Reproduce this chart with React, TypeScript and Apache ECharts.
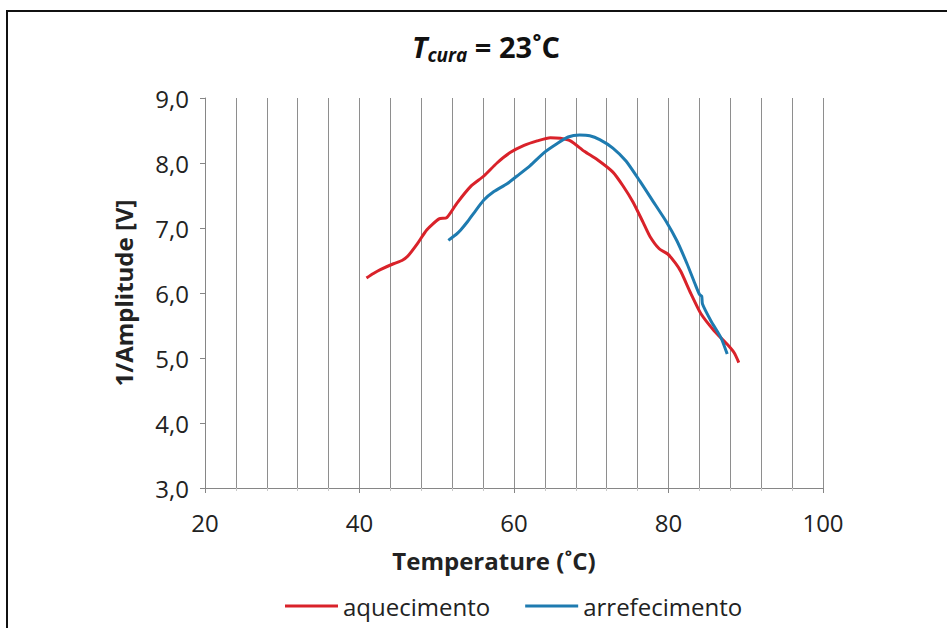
import React, { useEffect, useRef } from "react";
import * as echarts from "echarts";

// aquecimento (heating): [temperature °C, 1/amplitude V]
const heatingT = [40.9, 41.8, 42.7, 44.4, 45.5, 46.2, 47.5, 48.7, 50.3, 51.3, 52.6, 54.4, 56.1, 57.8, 59.5, 61.3, 63.0, 64.7, 66.0, 67.3, 69.1, 70.8, 72.8, 74.1, 75.4, 76.7, 77.6, 78.8, 79.9, 80.9, 81.6, 82.9, 84.2, 85.9, 87.6, 88.5, 89.1];
const heatingV = [6.23, 6.30, 6.36, 6.45, 6.50, 6.56, 6.76, 6.97, 7.14, 7.16, 7.38, 7.64, 7.80, 8.00, 8.16, 8.27, 8.34, 8.39, 8.38, 8.34, 8.18, 8.05, 7.86, 7.65, 7.40, 7.09, 6.87, 6.68, 6.60, 6.46, 6.33, 5.99, 5.68, 5.42, 5.21, 5.08, 4.93];

// arrefecimento (cooling)
const coolingT = [51.5, 52.5, 53.1, 54.0, 54.8, 56.1, 57.4, 59.1, 60.4, 62.1, 63.9, 65.6, 67.0, 68.5, 69.8, 71.1, 72.8, 74.5, 76.3, 78.0, 79.7, 81.1, 82.4, 83.4, 84.0, 84.3, 84.4, 85.5, 86.8, 87.6];
const coolingV = [6.81, 6.90, 6.97, 7.10, 7.23, 7.43, 7.56, 7.68, 7.80, 7.96, 8.16, 8.30, 8.40, 8.43, 8.42, 8.36, 8.23, 8.03, 7.72, 7.41, 7.10, 6.80, 6.45, 6.15, 5.98, 5.95, 5.83, 5.57, 5.31, 5.06];

const seriesNames = ["aquecimento", "arrefecimento"];
const xMin = 20;
const xMax = 100;
const xStep = 20;
const yMin = 3;
const yMax = 9;
const yStep = 1;

const FONT = "Open Sans";

export default function App() {
  const ref = useRef<HTMLDivElement>(null);

  useEffect(() => {
    if (!ref.current) return;
    const chart = echarts.init(ref.current, undefined, { renderer: "svg" });
    const heating = heatingT.map((t, i) => [t, heatingV[i]]);
    const cooling = coolingT.map((t, i) => [t, coolingV[i]]);
    const axisGray = "#868686";
    const gridGray = "#8e8e8e";
    chart.setOption({
      animation: false,
      backgroundColor: "#ffffff",
      textStyle: { fontFamily: FONT },
      title: {
        text: "{t|T}{s|cura}{n| = 23˚C}",
        left: 407,
        top: 24,
        textStyle: {
          rich: {
            t: { fontFamily: FONT, fontSize: 29, fontWeight: "bold", fontStyle: "italic", color: "#111", lineHeight: 35 },
            s: { fontFamily: FONT, fontSize: 19, fontWeight: "bold", fontStyle: "italic", color: "#111", lineHeight: 16, verticalAlign: "bottom" },
            n: { fontFamily: FONT, fontSize: 29, fontWeight: "bold", color: "#111", lineHeight: 35 },
          },
        },
      },
      grid: { left: 205, right: 124, top: 98, bottom: 140, outerBoundsMode: "none" },
      legend: {
        data: seriesNames,
        left: 280,
        top: 589,
        icon: "rect",
        itemWidth: 53,
        itemHeight: 3,
        itemGap: 35,
        textStyle: { fontFamily: FONT, fontSize: 24, color: "#222" },
      },
      xAxis: {
        type: "value",
        min: xMin,
        max: xMax,
        interval: xStep,
        name: "Temperature (˚C)",
        nameLocation: "middle",
        nameGap: 60,
        nameTextStyle: { fontFamily: FONT, fontSize: 24, fontWeight: "bold", color: "#222", padding: [0, 40, 0, 0] },
        axisLine: { show: true, onZero: false, lineStyle: { color: axisGray, width: 1 } },
        axisTick: { show: true, inside: false, length: 5, lineStyle: { color: axisGray } },
        minorTick: { show: true, splitNumber: 5, length: 3, lineStyle: { color: "#c8c8c8" } },
        splitLine: { show: true, lineStyle: { color: gridGray, width: 1 } },
        minorSplitLine: { show: true, lineStyle: { color: gridGray, width: 1 } },
        axisLabel: { fontFamily: FONT, fontSize: 24, color: "#222", margin: 22 },
      },
      yAxis: {
        type: "value",
        min: yMin,
        max: yMax,
        interval: yStep,
        name: "1/Amplitude [V]",
        nameLocation: "middle",
        nameGap: 70,
        nameTextStyle: { fontFamily: FONT, fontSize: 24, fontWeight: "bold", color: "#222" },
        axisLine: { show: true, lineStyle: { color: axisGray, width: 1 } },
        axisTick: { show: true, inside: false, length: 5, lineStyle: { color: axisGray } },
        splitLine: { show: false },
        axisLabel: {
          fontFamily: FONT,
          fontSize: 24,
          color: "#222",
          margin: 16,
          formatter: (v: number) => v.toFixed(1).replace(".", ","),
        },
      },
      graphic: [
        {
          type: "rect",
          shape: { x: 7, y: 11, width: 1000, height: 1000 },
          style: { fill: "none", stroke: "#111", lineWidth: 2 },
          silent: true,
        },
      ],
      series: [
        {
          name: seriesNames[0],
          type: "line",
          data: heating,
          showSymbol: false,
          smooth: 0.2,
          lineStyle: { color: "#d9222a", width: 3 },
          itemStyle: { color: "#d9222a" },
        },
        {
          name: seriesNames[1],
          type: "line",
          data: cooling,
          showSymbol: false,
          smooth: 0.2,
          lineStyle: { color: "#1e7bb0", width: 3 },
          itemStyle: { color: "#1e7bb0" },
        },
      ],
    });
    return () => chart.dispose();
  }, []);

  return (
    <div
      ref={ref}
      style={{ position: "absolute", left: 0, top: 0, width: 947, height: 628 }}
    />
  );
}
